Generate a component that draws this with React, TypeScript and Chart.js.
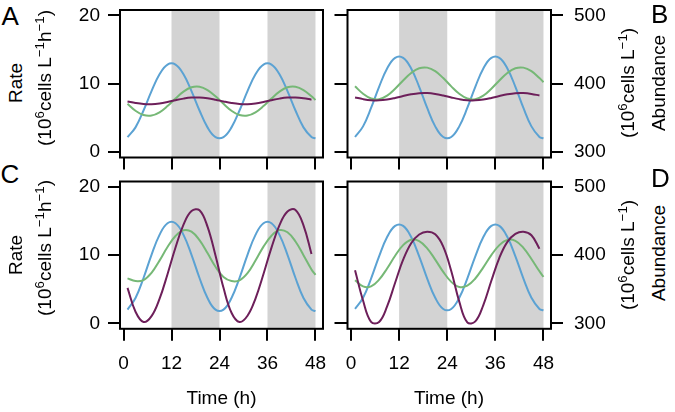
import React, { useEffect, useRef } from "react";
import { Chart, registerables } from "chart.js";

Chart.register(...registerables);

// ---------- data ----------
const hours = [1, 3, 5, 7, 9, 11, 13, 15, 17, 19, 21, 23, 25, 27, 29, 31, 33, 35, 37, 39, 41, 43, 45, 47, 48];
const timeTicks = [0, 12, 24, 36, 48];
const rateTicks = [0, 10, 20];
const abundanceTicks = [300, 400, 500];
const darkPeriods = [
  [12, 24],
  [36, 48],
];

// Panel A (rate)
const blueA = [2.19, 3.61, 6.08, 8.92, 11.39, 12.81, 12.81, 11.39, 8.92, 6.08, 3.61, 2.19, 2.19, 3.61, 6.08, 8.92, 11.39, 12.81, 12.81, 11.39, 8.92, 6.08, 3.61, 2.19, 2.0];
const greenA = [7.06, 6.05, 5.42, 5.34, 5.82, 6.73, 7.84, 8.85, 9.48, 9.56, 9.08, 8.17, 7.06, 6.05, 5.42, 5.34, 5.82, 6.73, 7.84, 8.85, 9.48, 9.56, 9.08, 8.17, 7.62];
const purpleA = [7.41, 7.18, 7.03, 7.01, 7.12, 7.33, 7.59, 7.82, 7.97, 7.99, 7.88, 7.67, 7.41, 7.18, 7.03, 7.01, 7.12, 7.33, 7.59, 7.82, 7.97, 7.99, 7.88, 7.67];

// Panel B (abundance)
const blueB = [322, 337.6, 364.5, 395.5, 422.4, 438, 438, 422.4, 395.5, 364.5, 337.6, 322, 322, 337.6, 364.5, 395.5, 422.4, 438, 438, 422.4, 395.5, 364.5, 337.6, 322, 320];
const greenB = [396.2, 385.3, 378.3, 377.4, 382.6, 392.7, 404.8, 415.8, 422.7, 423.6, 418.4, 408.3, 396.2, 385.3, 378.3, 377.4, 382.6, 392.7, 404.8, 415.8, 422.7, 423.6, 418.4, 408.3, 402.3];
const purpleB = [380.0, 377.5, 375.9, 375.7, 376.9, 379.2, 382.0, 384.5, 386.1, 386.3, 385.1, 382.8, 380.0, 377.5, 375.9, 375.7, 376.9, 379.2, 382.0, 384.5, 386.1, 386.3, 385.1, 382.8];

// Panel C (rate)
const blueC = [2.02, 3.72, 6.65, 10.05, 12.98, 14.68, 14.68, 12.98, 10.05, 6.65, 3.72, 2.02, 2.02, 3.72, 6.65, 10.05, 12.98, 14.68, 14.68, 12.98, 10.05, 6.65, 3.72, 2.02, 1.8];
const greenC = [6.6, 6.2, 6.35, 7.4, 9.2, 11.2, 12.8, 13.65, 13.45, 12.2, 10.3, 8.3, 6.8, 6.2, 6.3, 7.35, 9.2, 11.25, 12.85, 13.68, 13.35, 12.0, 10.0, 7.9, 7.1];
const purpleC = [5.2, 1.7, 0.2, 1.05, 3.58, 7.21, 11.13, 14.47, 16.46, 16.58, 14.19, 9.94, 5.21, 1.56, 0.2, 1.11, 3.64, 7.23, 11.11, 14.4, 16.41, 16.63, 14.37, 10.18];

// Panel D (abundance)
const blueD = [321.1, 337.5, 365.7, 398.3, 426.5, 442.9, 442.9, 426.5, 398.3, 365.7, 337.5, 321.1, 321.1, 337.5, 365.7, 398.3, 426.5, 442.9, 442.9, 426.5, 398.3, 365.7, 337.5, 321.1, 319];
const greenD = [363.3, 354.2, 354.3, 364.0, 380.5, 399.2, 414.7, 422.5, 420.7, 410.0, 393.5, 375.5, 360.8, 353.4, 355.3, 365.8, 382.1, 400.0, 414.7, 422.4, 421.0, 410.7, 394.4, 376.3, 368.2];
const purpleD = [378.0, 333.4, 302.2, 302.0, 324.8, 359.5, 393.3, 417.5, 430.3, 434.4, 430.5, 412.6, 376.8, 331.9, 301.4, 302.8, 326.8, 362.4, 396.1, 419.4, 431.1, 434.4, 429.2, 409.5];

// ---------- styles ----------
const FONT = "'Liberation Sans', Arial, Helvetica, sans-serif";
const BLUE = "#5ba2d3";
const GREEN = "#76b876";
const PURPLE = "#6d1f5a";
const SHADE = "#d3d3d3";

type Box = { l: number; t: number; r: number; b: number };
type PanelSpec = {
  cx: number;
  cy: number;
  cw: number;
  ch: number;
  box: Box;
  side: "left" | "right";
  xLabels: boolean;
  blue: number[];
  green: number[];
  purple: number[];
};

const setTicks = (vals: number[]) => (axis: any) => {
  axis.ticks = vals.map((v) => ({ value: v }));
};
const fixW = (w: number) => (axis: any) => {
  axis.width = w;
  axis.paddingTop = 0;
  axis.paddingBottom = 0;
  axis.paddingLeft = 0;
  axis.paddingRight = 0;
};
const fixH = (h: number) => (axis: any) => {
  axis.height = h;
  axis.paddingTop = 0;
  axis.paddingBottom = 0;
  axis.paddingLeft = 0;
  axis.paddingRight = 0;
};

const gridOpts = (len: number) => ({
  drawOnChartArea: false,
  drawTicks: true,
  tickLength: len,
  tickWidth: 2,
  tickColor: "#000",
  color: "#000",
  lineWidth: 2,
});

const boxPlugin = {
  id: "shadeBox",
  beforeDatasetsDraw(chart: any) {
    const { ctx, chartArea, scales } = chart;
    const x = scales.x;
    ctx.save();
    ctx.fillStyle = SHADE;
    for (const [a, b] of darkPeriods) {
      const x0 = x.getPixelForValue(a);
      const x1 = x.getPixelForValue(b);
      ctx.fillRect(x0, chartArea.top, x1 - x0, chartArea.bottom - chartArea.top);
    }
    ctx.restore();
  },
  afterDatasetsDraw(chart: any) {
    const { ctx, chartArea } = chart;
    ctx.save();
    ctx.strokeStyle = "#000";
    ctx.lineWidth = 2;
    ctx.strokeRect(chartArea.left, chartArea.top, chartArea.right - chartArea.left, chartArea.bottom - chartArea.top);
    ctx.restore();
  },
};

function Panel({ spec }: { spec: PanelSpec }) {
  const ref = useRef<HTMLCanvasElement>(null);
  useEffect(() => {
    const p = spec;
    const leftW = p.box.l - p.cx;
    const rightW = p.cx + p.cw - p.box.r;
    const bottomH = p.cy + p.ch - p.box.b;
    const topPad = p.box.t - p.cy;
    const toPts = (vals: number[]) => vals.map((v, i) => ({ x: hours[i], y: v }));
    const tickFont = { family: FONT, size: 19 };

    const scales: any = {
      x: {
        type: "linear",
        position: "bottom",
        min: -0.88,
        max: 49.88,
        bounds: "data",
        afterBuildTicks: setTicks(timeTicks),
        afterFit: fixH(bottomH),
        grid: gridOpts(12),
        border: { display: false },
        ticks: {
          padding: 12,
          color: "#000",
          font: tickFont,
          maxRotation: 0,
          autoSkip: false,
          callback: (v: number) => (p.xLabels ? String(v) : ""),
        },
      },
    };
    if (p.side === "left") {
      scales.y = {
        type: "linear",
        position: "left",
        min: -0.8,
        max: 20.8,
        bounds: "data",
        afterBuildTicks: setTicks(rateTicks),
        afterFit: fixW(leftW),
        grid: gridOpts(12),
        border: { display: false },
        ticks: { padding: 8, color: "#000", font: tickFont, callback: (v: number) => String(v) },
      };
    } else {
      scales.yl = {
        type: "linear",
        position: "left",
        min: -0.8,
        max: 20.8,
        bounds: "data",
        afterBuildTicks: setTicks(rateTicks),
        afterFit: fixW(leftW),
        grid: gridOpts(13),
        border: { display: false },
        ticks: { padding: 0, color: "#000", font: tickFont, callback: () => "" },
      };
      scales.y = {
        type: "linear",
        position: "right",
        min: 292,
        max: 508,
        bounds: "data",
        afterBuildTicks: setTicks(abundanceTicks),
        afterFit: fixW(rightW),
        grid: gridOpts(12),
        border: { display: false },
        ticks: { padding: 11, color: "#000", font: tickFont, callback: (v: number) => String(v) },
      };
    }

    const line = (vals: number[], color: string) => ({
      data: toPts(vals),
      borderColor: color,
      backgroundColor: color,
      borderWidth: 2,
      pointRadius: 0,
      tension: 0.4,
      fill: false,
      yAxisID: "y",
    });

    const chart = new Chart(ref.current as HTMLCanvasElement, {
      type: "line",
      data: {
        datasets: [line(p.purple, PURPLE), line(p.green, GREEN), line(p.blue, BLUE)] as any,
      },
      options: {
        responsive: false,
        maintainAspectRatio: false,
        animation: false,
        devicePixelRatio: 1,
        layout: {
          padding: { top: topPad, left: 0, right: p.side === "left" ? rightW : 0, bottom: 0 },
        },
        plugins: { legend: { display: false }, tooltip: { enabled: false } },
        scales,
      } as any,
      plugins: [boxPlugin],
    });
    return () => chart.destroy();
  }, [spec]);

  return (
    <canvas
      ref={ref}
      width={spec.cw}
      height={spec.ch}
      style={{ position: "absolute", left: spec.cx, top: spec.cy, width: spec.cw, height: spec.ch }}
    />
  );
}

const sup = (s: string) => (
  <span style={{ fontSize: "0.7em", verticalAlign: "0.5em", lineHeight: 0 }}>{s}</span>
);

function VText({ cx, cy, children }: { cx: number; cy: number; children: React.ReactNode }) {
  return (
    <div
      style={{
        position: "absolute",
        left: cx,
        top: cy,
        transform: "translate(-50%, -50%) rotate(-90deg)",
        fontFamily: FONT,
        fontSize: 19,
        lineHeight: 1,
        whiteSpace: "nowrap",
        color: "#000",
      }}
    >
      {children}
    </div>
  );
}

function HText({ left, top, size, center, children }: { left: number; top: number; size: number; center?: boolean; children: React.ReactNode }) {
  return (
    <div
      style={{
        position: "absolute",
        left,
        top,
        transform: center ? "translateX(-50%)" : undefined,
        fontFamily: FONT,
        fontSize: size,
        lineHeight: 1,
        whiteSpace: "nowrap",
        color: "#000",
      }}
    >
      {children}
    </div>
  );
}

const panels: PanelSpec[] = [
  { cx: 40, cy: 0, cw: 297, ch: 175, box: { l: 120, t: 10, r: 323, b: 157.5 }, side: "left", xLabels: false, blue: blueA, green: greenA, purple: purpleA },
  { cx: 330, cy: 0, cw: 285, ch: 175, box: { l: 347.5, t: 10, r: 551, b: 157.5 }, side: "right", xLabels: false, blue: blueB, green: greenB, purple: purpleB },
  { cx: 40, cy: 175, cw: 297, ch: 237, box: { l: 120, t: 181.5, r: 323, b: 328.8 }, side: "left", xLabels: true, blue: blueC, green: greenC, purple: purpleC },
  { cx: 330, cy: 175, cw: 285, ch: 237, box: { l: 347.5, t: 181.5, r: 551, b: 328.8 }, side: "right", xLabels: true, blue: blueD, green: greenD, purple: purpleD },
];

const rateUnit = (
  <>
    (10{sup("6")}cells L{sup("\u22121")}h{sup("\u22121")})
  </>
);
const abundUnit = (
  <>
    (10{sup("6")}cells L{sup("\u22121")})
  </>
);

export default function App() {
  return (
    <div style={{ position: "absolute", left: 0, top: 0, width: 675, height: 412, background: "#fff", overflow: "hidden" }}>
      {panels.map((p, i) => (
        <Panel key={i} spec={p} />
      ))}
      <HText left={1.5} top={3.3} size={26}>A</HText>
      <HText left={651} top={1.3} size={26}>B</HText>
      <HText left={0.5} top={161} size={26}>C</HText>
      <HText left={651} top={165} size={26}>D</HText>

      <VText cx={15.4} cy={83}>Rate</VText>
      <VText cx={44.4} cy={78}>{rateUnit}</VText>
      <VText cx={15.4} cy={255}>Rate</VText>
      <VText cx={44.4} cy={248}>{rateUnit}</VText>

      <VText cx={658.4} cy={83}>Abundance</VText>
      <VText cx={627.4} cy={83}>{abundUnit}</VText>
      <VText cx={658.4} cy={253}>Abundance</VText>
      <VText cx={627.4} cy={255}>{abundUnit}</VText>

      <HText left={221.5} top={387.5} size={19} center>Time (h)</HText>
      <HText left={449} top={387.5} size={19} center>Time (h)</HText>
    </div>
  );
}
